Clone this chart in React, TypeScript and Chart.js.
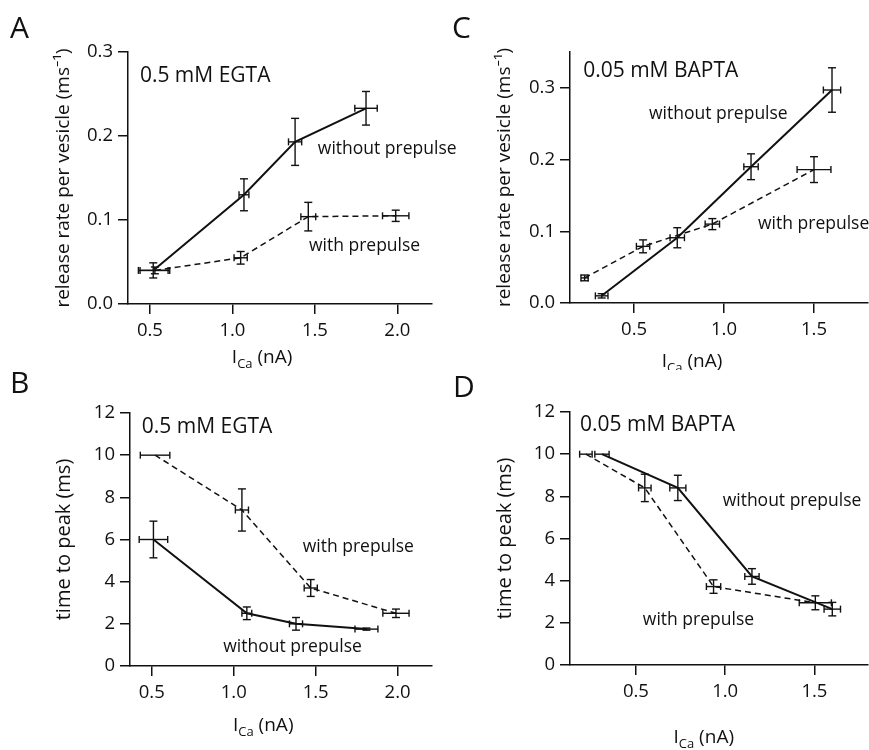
import React, { useEffect, useRef } from "react";
import { Chart, registerables } from "chart.js";

Chart.register(...registerables);

const FONT = "'Open Sans', 'Noto Sans', 'DejaVu Sans', sans-serif";
const INK = "#111";

// ---------- Panel A: 0.5 mM EGTA, release rate ----------
const aWithoutX = [0.52, 1.07, 1.38, 1.81];
const aWithoutY = [0.04, 0.13, 0.193, 0.233];
const aWithoutXErr = [0.09, 0.03, 0.04, 0.068];
const aWithoutYErr = [0.009, 0.019, 0.028, 0.02];
const aWithX = [0.53, 1.05, 1.46, 1.99];
const aWithY = [0.04, 0.055, 0.104, 0.105];
const aWithXErr = [0.09, 0.04, 0.045, 0.08];
const aWithYErr = [0.004, 0.0075, 0.017, 0.0067];

// ---------- Panel B: 0.5 mM EGTA, time to peak ----------
const bWithoutX = [0.51, 1.08, 1.38, 1.81];
const bWithoutY = [6.0, 2.5, 2.0, 1.75];
const bWithoutXErr = [0.087, 0.03, 0.04, 0.07];
const bWithoutYErr = [0.87, 0.3, 0.3, 0.05];
const bWithX = [0.52, 1.05, 1.47, 1.99];
const bWithY = [10, 7.4, 3.7, 2.5];
const bWithXErr = [0.09, 0.04, 0.04, 0.08];
const bWithYErr = [0, 1.0, 0.4, 0.2];

// ---------- Panel C: 0.05 mM BAPTA, release rate ----------
const cWithoutX = [0.32, 0.74, 1.15, 1.6];
const cWithoutY = [0.01, 0.091, 0.19, 0.297];
const cWithoutXErr = [0.035, 0.04, 0.04, 0.048];
const cWithoutYErr = [0.003, 0.014, 0.018, 0.031];
const cWithX = [0.225, 0.55, 0.935, 1.5];
const cWithY = [0.035, 0.079, 0.11, 0.186];
const cWithXErr = [0.02, 0.037, 0.04, 0.094];
const cWithYErr = [0.004, 0.009, 0.0077, 0.018];

// ---------- Panel D: 0.05 mM BAPTA, time to peak ----------
const dWithoutX = [0.31, 0.735, 1.15, 1.6];
const dWithoutY = [10, 8.4, 4.2, 2.65];
const dWithoutXErr = [0.04, 0.045, 0.04, 0.046];
const dWithoutYErr = [0, 0.6, 0.37, 0.32];
const dWithX = [0.22, 0.55, 0.935, 1.505];
const dWithY = [10, 8.4, 3.72, 2.95];
const dWithXErr = [0.035, 0.035, 0.04, 0.09];
const dWithYErr = [0, 0.65, 0.32, 0.33];

// ---------- ticks ----------
const xTicksEGTA = [0.5, 1.0, 1.5, 2.0];
const xTicksBAPTA = [0.5, 1.0, 1.5];
const yTicksRate = [0.0, 0.1, 0.2, 0.3];
const yTicksTime = [0, 2, 4, 6, 8, 10, 12];

const rateTitle = "release rate per vesicle (ms\u207B\u00B9)";
const timeTitle = "time to peak (ms)";

type Series = { x: number[]; y: number[]; xErr: number[]; yErr: number[]; dashed: boolean };
type Ann = { text: string; x: number; y: number; size: number };

type Panel = {
  letter: string;
  letterX: number;
  letterY: number;
  left: number;
  top: number;
  width: number;
  height: number;
  padLeft: number;
  padTop: number;
  padRight: number;
  yWidth: number;
  xHeight: number;
  yTitlePad: number;
  yTitleSize: number;
  xMin: number;
  xMax: number;
  yMin: number;
  yMax: number;
  xTicks: number[];
  yTicks: number[];
  yDecimals: number;
  yTitle: string;
  xTitleX: number;
  xTitleDy: number;
  series: Series[];
  annotations: Ann[];
};

const panels: Panel[] = [
  {
    letter: "A", letterX: 10, letterY: 38,
    left: 0, top: 0, width: 470, height: 370,
    padLeft: 40, padTop: 52, padRight: 38, yWidth: 88, xHeight: 66, yTitlePad: 12, yTitleSize: 19,
    xMin: 0.367, xMax: 2.21, yMin: 0, yMax: 0.3,
    xTicks: xTicksEGTA, yTicks: yTicksRate, yDecimals: 1,
    yTitle: rateTitle, xTitleX: 1.18, xTitleDy: 53,
    series: [
      { x: aWithoutX, y: aWithoutY, xErr: aWithoutXErr, yErr: aWithoutYErr, dashed: false },
      { x: aWithX, y: aWithY, xErr: aWithXErr, yErr: aWithYErr, dashed: true },
    ],
    annotations: [
      { text: "0.5 mM EGTA", x: 0.439, y: 0.264, size: 21 },
      { text: "without prepulse", x: 1.518, y: 0.178, size: 17.5 },
      { text: "with prepulse", x: 1.464, y: 0.063, size: 17.5 },
    ],
  },
  {
    letter: "B", letterX: 10, letterY: 23,
    left: 0, top: 370, width: 470, height: 380,
    padLeft: 40, padTop: 43, padRight: 38, yWidth: 90, xHeight: 84, yTitlePad: 12, yTitleSize: 20,
    xMin: 0.367, xMax: 2.21, yMin: 0, yMax: 12,
    xTicks: xTicksEGTA, yTicks: yTicksTime, yDecimals: 0,
    yTitle: timeTitle, xTitleX: 1.18, xTitleDy: 59,
    series: [
      { x: bWithoutX, y: bWithoutY, xErr: bWithoutXErr, yErr: bWithoutYErr, dashed: false },
      { x: bWithX, y: bWithY, xErr: bWithXErr, yErr: bWithYErr, dashed: true },
    ],
    annotations: [
      { text: "0.5 mM EGTA", x: 0.439, y: 11.07, size: 21 },
      { text: "with prepulse", x: 1.421, y: 5.42, size: 17.5 },
      { text: "without prepulse", x: 0.936, y: 0.67, size: 17.5 },
    ],
  },
  {
    letter: "C", letterX: 12, letterY: 38,
    left: 440, top: 0, width: 429, height: 370,
    padLeft: 50, padTop: 52, padRight: 1, yWidth: 80, xHeight: 67, yTitlePad: 3, yTitleSize: 19,
    xMin: 0.144, xMax: 1.8, yMin: 0, yMax: 0.35,
    xTicks: xTicksBAPTA, yTicks: yTicksRate, yDecimals: 1,
    yTitle: rateTitle, xTitleX: 0.822, xTitleDy: 58,
    series: [
      { x: cWithoutX, y: cWithoutY, xErr: cWithoutXErr, yErr: cWithoutYErr, dashed: false },
      { x: cWithX, y: cWithY, xErr: cWithXErr, yErr: cWithYErr, dashed: true },
    ],
    annotations: [
      { text: "0.05 mM BAPTA", x: 0.217, y: 0.315, size: 21 },
      { text: "without prepulse", x: 0.583, y: 0.256, size: 17.5 },
      { text: "with prepulse", x: 1.189, y: 0.103, size: 17.5 },
    ],
  },
  {
    letter: "D", letterX: 13, letterY: 27,
    left: 440, top: 370, width: 429, height: 380,
    padLeft: 50, padTop: 42, padRight: 1, yWidth: 80, xHeight: 85, yTitlePad: 3, yTitleSize: 20,
    xMin: 0.131, xMax: 1.8, yMin: 0, yMax: 12,
    xTicks: xTicksBAPTA, yTicks: yTicksTime, yDecimals: 0,
    yTitle: timeTitle, xTitleX: 0.88, xTitleDy: 72,
    series: [
      { x: dWithoutX, y: dWithoutY, xErr: dWithoutXErr, yErr: dWithoutYErr, dashed: false },
      { x: dWithX, y: dWithY, xErr: dWithXErr, yErr: dWithYErr, dashed: true },
    ],
    annotations: [
      { text: "0.05 mM BAPTA", x: 0.187, y: 11.1, size: 21 },
      { text: "without prepulse", x: 0.986, y: 7.54, size: 17.5 },
      { text: "with prepulse", x: 0.539, y: 1.9, size: 17.5 },
    ],
  },
];

function decorPlugin(p: Panel) {
  return {
    id: "decor" + p.letter,
    afterDatasetsDraw(chart: any) {
      const ctx = chart.ctx as CanvasRenderingContext2D;
      const xs = chart.scales.x;
      const ys = chart.scales.y;
      ctx.save();
      ctx.strokeStyle = INK;
      ctx.lineWidth = 1.4;
      ctx.setLineDash([]);
      const seg = (x1: number, y1: number, x2: number, y2: number) => {
        ctx.beginPath();
        ctx.moveTo(x1, y1);
        ctx.lineTo(x2, y2);
        ctx.stroke();
      };
      chart.data.datasets.forEach((ds: any) => {
        const xe: number[] = ds.xErr || [];
        const ye: number[] = ds.yErr || [];
        ds.data.forEach((pt: any, i: number) => {
          const cx = xs.getPixelForValue(pt.x);
          const cy = ys.getPixelForValue(pt.y);
          if (ye[i] > 0) {
            const t = ys.getPixelForValue(pt.y + ye[i]);
            const b = ys.getPixelForValue(pt.y - ye[i]);
            seg(cx, t, cx, b);
            seg(cx - 4, t, cx + 4, t);
            seg(cx - 4, b, cx + 4, b);
          }
          if (xe[i] > 0) {
            const l = xs.getPixelForValue(pt.x - xe[i]);
            const r = xs.getPixelForValue(pt.x + xe[i]);
            seg(l, cy, r, cy);
            seg(l, cy - 3.5, l, cy + 3.5);
            seg(r, cy - 3.5, r, cy + 3.5);
          }
        });
      });
      ctx.restore();
    },
    afterDraw(chart: any) {
      const ctx = chart.ctx as CanvasRenderingContext2D;
      const xs = chart.scales.x;
      const ys = chart.scales.y;
      ctx.save();
      ctx.fillStyle = INK;
      ctx.textAlign = "left";
      ctx.textBaseline = "alphabetic";
      p.annotations.forEach((a) => {
        ctx.font = `${a.size}px ${FONT}`;
        ctx.fillText(a.text, xs.getPixelForValue(a.x), ys.getPixelForValue(a.y));
      });
      ctx.font = `30px ${FONT}`;
      ctx.fillText(p.letter, p.letterX, p.letterY);
      const mainFont = `19px ${FONT}`;
      const subFont = `13px ${FONT}`;
      ctx.font = mainFont;
      const wI = ctx.measureText("I").width;
      const wRest = ctx.measureText(" (nA)").width;
      ctx.font = subFont;
      const wSub = ctx.measureText("Ca").width;
      const total = wI + wSub + wRest;
      let x = xs.getPixelForValue(p.xTitleX) - total / 2;
      const yBase = chart.chartArea.bottom + p.xTitleDy + 6;
      ctx.font = mainFont;
      ctx.fillText("I", x, yBase);
      x += wI;
      ctx.font = subFont;
      ctx.fillText("Ca", x, yBase + 5);
      x += wSub;
      ctx.font = mainFont;
      ctx.fillText(" (nA)", x, yBase);
      ctx.restore();
    },
  };
}

function makeConfig(p: Panel): any {
  const datasets = p.series.map((s) => ({
    data: s.x.map((x, i) => ({ x, y: s.y[i] })),
    showLine: true,
    borderColor: INK,
    backgroundColor: INK,
    borderWidth: s.dashed ? 1.5 : 2,
    borderDash: s.dashed ? [6, 4] : [],
    pointRadius: 0,
    pointHoverRadius: 0,
    tension: 0,
    fill: false,
    xErr: s.xErr,
    yErr: s.yErr,
  }));
  const tickFont = { family: FONT, size: 18.5 };
  return {
    type: "scatter",
    data: { datasets },
    options: {
      animation: false,
      responsive: false,
      devicePixelRatio: 1,
      events: [],
      layout: { padding: { left: p.padLeft, top: p.padTop, right: p.padRight, bottom: 0 } },
      plugins: { legend: { display: false }, tooltip: { enabled: false } },
      scales: {
        x: {
          type: "linear",
          min: p.xMin,
          max: p.xMax,
          afterBuildTicks: (ax: any) => {
            ax.ticks = p.xTicks.map((v) => ({ value: v }));
          },
          afterFit: (ax: any) => {
            ax.height = p.xHeight;
          },
          ticks: {
            font: tickFont,
            color: INK,
            padding: 6,
            maxRotation: 0,
            autoSkip: false,
            callback: (v: any) => Number(v).toFixed(1),
          },
          grid: { drawOnChartArea: false, drawTicks: true, tickLength: 10, color: INK, lineWidth: 1.5 },
          border: { display: true, color: INK, width: 1.5 },
        },
        y: {
          type: "linear",
          min: p.yMin,
          max: p.yMax,
          afterBuildTicks: (ax: any) => {
            ax.ticks = p.yTicks.map((v) => ({ value: v }));
          },
          afterFit: (ax: any) => {
            ax.width = p.yWidth;
          },
          ticks: {
            font: tickFont,
            color: INK,
            padding: 5,
            autoSkip: false,
            callback: (v: any) => Number(v).toFixed(p.yDecimals),
          },
          grid: { drawOnChartArea: false, drawTicks: true, tickLength: 10, color: INK, lineWidth: 1.5 },
          border: { display: true, color: INK, width: 1.5 },
          title: {
            display: true,
            text: p.yTitle,
            color: INK,
            font: { family: FONT, size: p.yTitleSize },
            padding: { top: p.yTitlePad, bottom: 0 },
          },
        },
      },
    },
    plugins: [decorPlugin(p)],
  };
}

function PanelChart({ p }: { p: Panel }) {
  const ref = useRef<HTMLCanvasElement | null>(null);
  useEffect(() => {
    if (!ref.current) return;
    const chart = new Chart(ref.current, makeConfig(p));
    return () => chart.destroy();
  }, [p]);
  return (
    <canvas
      ref={ref}
      width={p.width}
      height={p.height}
      style={{ position: "absolute", left: p.left, top: p.top, width: p.width, height: p.height }}
    />
  );
}

export default function App() {
  return (
    <div
      style={{
        position: "absolute",
        left: 0,
        top: 0,
        width: 869,
        height: 750,
        background: "#fff",
        overflow: "hidden",
      }}
    >
      {panels.map((p) => (
        <PanelChart key={p.letter} p={p} />
      ))}
    </div>
  );
}
